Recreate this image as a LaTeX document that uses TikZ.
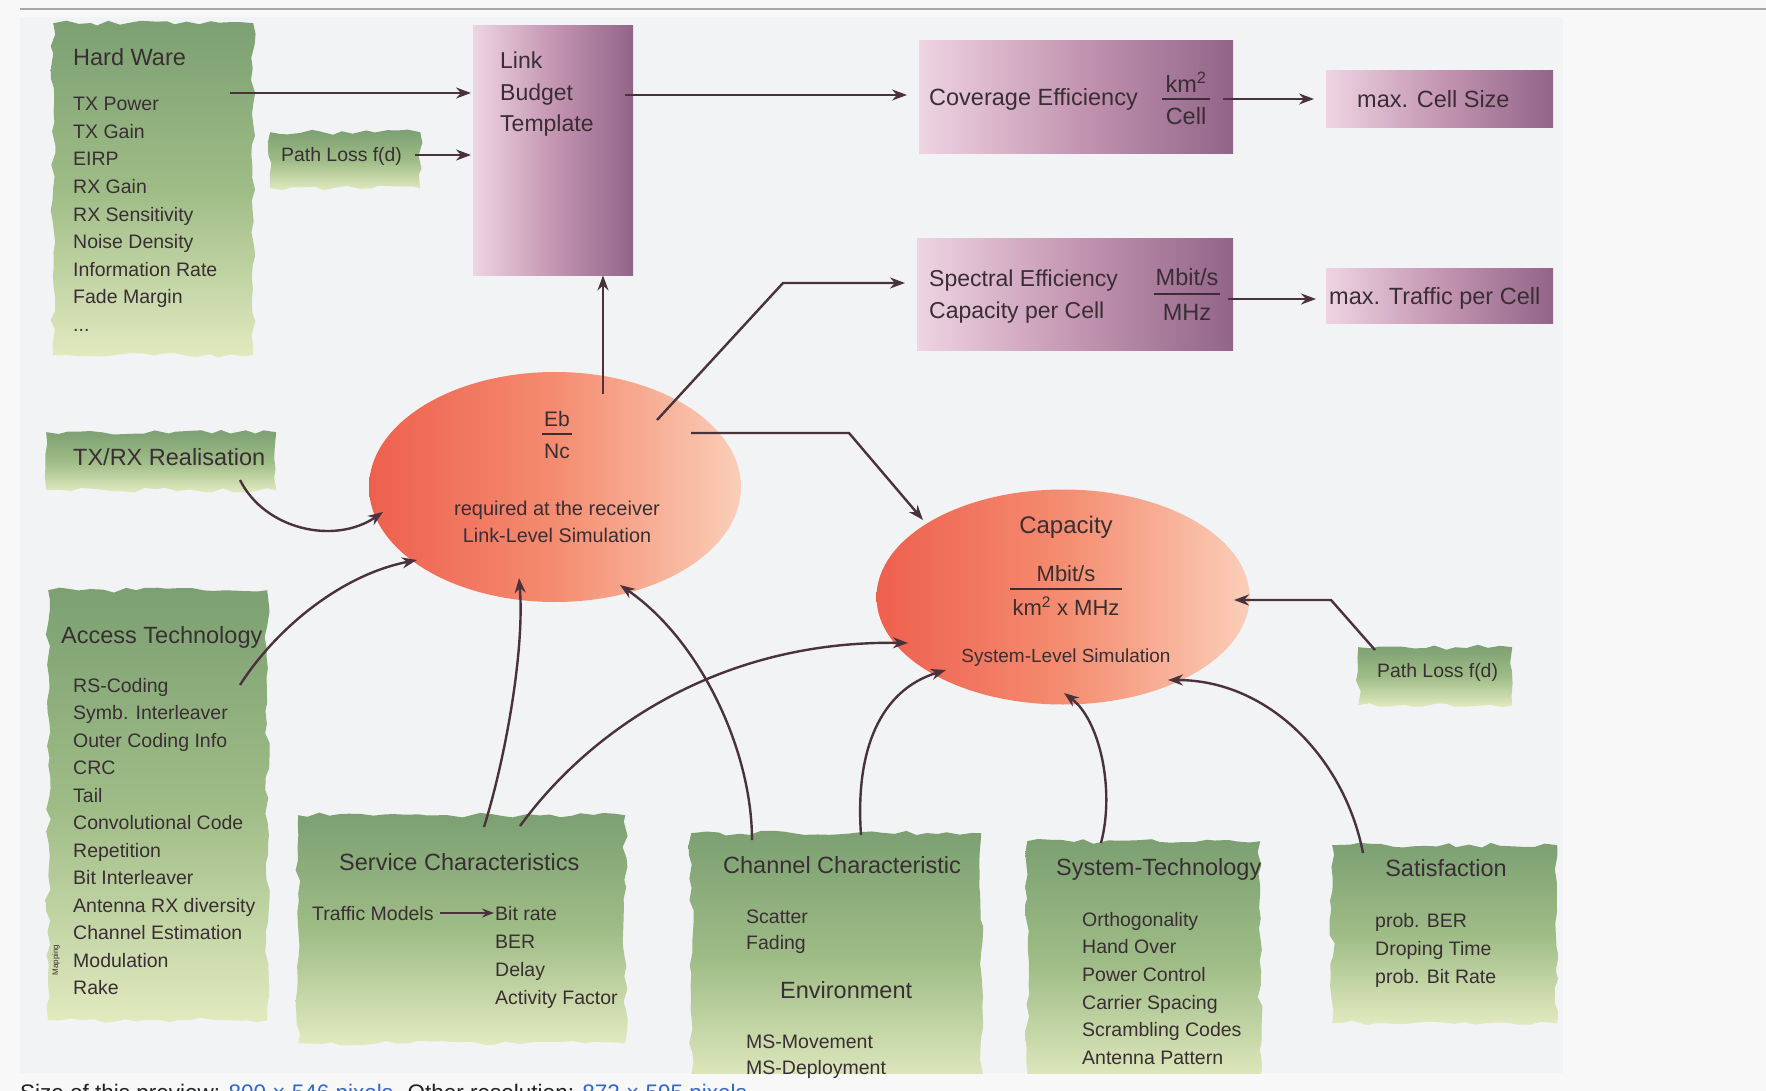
\documentclass[tikz,border=0pt]{standalone}
\usepackage{fontspec}
\setmainfont{Liberation Sans}
\usetikzlibrary{calc,decorations.pathmorphing,arrows.meta,shapes.geometric}
\definecolor{pagebg}{RGB}{248,248,248}
\definecolor{figbg}{RGB}{242,243,245}
\definecolor{rulegray}{RGB}{168,168,168}
\definecolor{ink}{RGB}{58,46,52}
\definecolor{arrowc}{RGB}{74,50,60}
\definecolor{gtop}{RGB}{124,160,114}
\definecolor{gmid}{RGB}{158,188,134}
\definecolor{gbot}{RGB}{226,234,192}
\definecolor{pleft}{RGB}{238,212,226}
\definecolor{pmid}{RGB}{196,150,178}
\definecolor{pright}{RGB}{146,100,136}
\definecolor{eleft}{RGB}{238,96,78}
\definecolor{emid}{RGB}{244,140,112}
\definecolor{eright}{RGB}{251,206,184}
\definecolor{capblack}{RGB}{32,33,34}
\definecolor{linkblue}{RGB}{51,102,204}
\newcommand\ftitle{\fontsize{23.5}{28}\selectfont}
\newcommand\fitem{\fontsize{19.5}{27.6}\selectfont}
\begin{document}
\begin{tikzpicture}[x=1pt,y=-1pt,
  greenbox/.style={anchor=north west, inner sep=0pt, top color=gtop, bottom color=gbot, middle color=gmid, decorate, decoration={random steps,segment length=11pt,amplitude=2.6pt}},
  purplebox/.style={anchor=north west, inner sep=0pt, left color=pleft, right color=pright, middle color=pmid},
  oval/.style={ellipse, inner sep=0pt, left color=eleft, right color=eright, middle color=emid},
  ttl/.style={anchor=base west, inner sep=0pt, text=ink, font=\ftitle},
  lst/.style={anchor=north west, inner sep=0pt, text=ink, font=\fitem, align=left},
  txt/.style={anchor=base, inner sep=0pt, text=ink},
  arr/.style={draw=arrowc, line width=2.4pt, -{Stealth[length=15pt,width=11pt]}},
  bar/.style={draw=ink, line width=2pt},
]
\pgfmathsetseed{11}
\fill[pagebg] (0,0) rectangle (1766,1091);
\useasboundingbox (0,0) rectangle (1766,1091);
\fill[figbg] (20,17) rectangle (1563,1073);
\draw[rulegray, line width=2pt] (20,9) -- (1766,9);

% ---------- boxes ----------
\begin{scope}
\clip (0,0) rectangle (1766,1073);
\node[greenbox, minimum width=200pt, minimum height=332pt] (hw) at (53,23) {};
\node[purplebox, minimum width=160pt, minimum height=250pt] (link) at (473,25) {};
\node[greenbox, minimum width=150pt, minimum height=56pt] (pl1) at (270,132) {};
\node[purplebox, minimum width=314pt, minimum height=113pt] (cov) at (919,40) {};
\node[purplebox, minimum width=227pt, minimum height=57pt] (maxcell) at (1326,70) {};
\node[purplebox, minimum width=316pt, minimum height=112pt] (spec) at (917,238) {};
\node[purplebox, minimum width=227pt, minimum height=55pt] (maxtraf) at (1326,268) {};
\node[greenbox, minimum width=230pt, minimum height=58pt] (txrx) at (46,432) {};
\node[greenbox, minimum width=219pt, minimum height=430pt] (access) at (48,590) {};
\node[greenbox, minimum width=327pt, minimum height=228pt] (service) at (298,815) {};
\node[greenbox, minimum width=290pt, minimum height=250pt] (channel) at (691,833) {};
\node[greenbox, minimum width=233pt, minimum height=242pt] (system) at (1027,841) {};
\node[greenbox, minimum width=225pt, minimum height=178pt] (satisf) at (1332,845) {};
\node[greenbox, minimum width=154pt, minimum height=58pt] (pl2) at (1358,647) {};
\end{scope}
\node[oval, minimum width=372pt, minimum height=230pt] (eb) at (555,487) {};
\node[oval, minimum width=373pt, minimum height=215pt] (capy) at (1063,597) {};

% ---------- texts ----------
\node[ttl] (hwt) at (73,66) {Hard Ware};
\node[lst] (hwl) at (73,97) {TX Power\\TX Gain\\EIRP\\RX Gain\\RX Sensitivity\\Noise Density\\Information Rate\\Fade Margin\\...};
\node[lst, font=\fontsize{23}{31.5}\selectfont] (lbt) at (500,52) {Link\\Budget\\Template};
\node[ttl, font=\fontsize{19.4}{24}\selectfont] (pl1t) at (281,162) {Path Loss f(d)};
\node[ttl] (covt) at (929,106) {Coverage Efficiency};
\node[txt, font=\ftitle] (covnum) at (1186,93) {km\textsuperscript{2}};
\node[txt, font=\ftitle] (covden) at (1186,125) {Cell};
\draw[bar] ($(covnum.base)+(-24,6)$) -- ($(covnum.base)+(24,6)$);
\node[ttl] (maxcellt) at (1357,108) {max. Cell Size};
\node[lst, font=\fontsize{23}{32}\selectfont] (spect) at (929,270) {Spectral Efficiency\\Capacity per Cell};
\node[txt, font=\ftitle] (specnum) at (1187,286) {Mbit/s};
\node[txt, font=\ftitle] (specden) at (1187,320) {MHz};
\draw[bar] ($(specnum.base)+(-33,8)$) -- ($(specnum.base)+(33,8)$);
\node[ttl] (maxtraft) at (1329,305) {max. Traffic per Cell};

\node[txt, font=\fontsize{21}{24}\selectfont] (ebnum) at (557,426) {Eb};
\node[txt, font=\fontsize{21}{24}\selectfont] (ebden) at (557,458) {Nc};
\draw[bar] ($(ebnum.base)+(-15,8)$) -- ($(ebnum.base)+(15,8)$);
\node[txt, font=\fontsize{20}{24}\selectfont] (ebr1) at (557,515) {required at the receiver};
\node[txt, font=\fontsize{19.8}{24}\selectfont] (ebr2) at (557,542) {Link-Level Simulation};

\node[txt, font=\fontsize{24}{28}\selectfont] (capt) at (1066,533) {Capacity};
\node[txt, font=\fontsize{22}{26}\selectfont] (capnum) at (1066,581) {Mbit/s};
\node[txt, font=\fontsize{22}{26}\selectfont] (capden) at (1066,615) {km\textsuperscript{2} x MHz};
\draw[bar] ($(capnum.base)+(-56,8)$) -- ($(capnum.base)+(56,8)$);
\node[txt, font=\fontsize{19}{24}\selectfont] (capsim) at (1066,662) {System-Level Simulation};

\node[ttl] (txrxt) at (73,465) {TX/RX Realisation};
\node[ttl] (acct) at (61,643) {Access Technology};
\node[lst, font=\fontsize{19.5}{27.5}\selectfont] (accl) at (73,678) {RS-Coding\\Symb. Interleaver\\Outer Coding Info\\CRC\\Tail\\Convolutional Code\\Repetition\\Bit Interleaver\\Antenna RX diversity\\Channel Estimation\\Modulation\\Rake};
\node[rotate=90, inner sep=0pt, text=ink, font=\fontsize{8}{9}\selectfont] (mapt) at (56,960) {Mapping};

\node[ttl] (servt) at (339,870) {Service Characteristics};
\node[ttl, font=\fitem] (tm) at (312,920) {Traffic Models};
\node[lst, font=\fontsize{19.5}{28}\selectfont] (brl) at (495,906) {Bit rate\\BER\\Delay\\Activity Factor};

\node[ttl] (chant) at (723,873) {Channel Characteristic};
\node[lst, font=\fontsize{19.5}{26}\selectfont] (chl1) at (746,910) {Scatter\\Fading};
\node[ttl] (envt) at (780,998) {Environment};
\node[lst, font=\fontsize{19.5}{26}\selectfont] (chl2) at (746,1035) {MS-Movement\\MS-Deployment};

\node[ttl] (syst) at (1056,875) {System-Technology};
\node[lst] (sysl) at (1082,912) {Orthogonality\\Hand Over\\Power Control\\Carrier Spacing\\Scrambling Codes\\Antenna Pattern};

\node[txt, font=\ftitle] (satt) at (1446,876) {Satisfaction};
\node[lst, font=\fontsize{19.5}{28}\selectfont] (satl) at (1375,913) {prob. BER\\Droping Time\\prob. Bit Rate};

\node[ttl, font=\fontsize{19.4}{24}\selectfont] (pl2t) at (1377,677) {Path Loss f(d)};

% ---------- connectors ----------
\draw[arr] ($(hw.north west)+(177,70)$) -- ($(link.north west)+(-2,68)$);
\draw[arr] ($(pl1.north west)+(145,23)$) -- ($(link.north west)+(-2,130)$);
\draw[arr] ($(link.north west)+(152,70)$) -- ($(cov.north west)+(-12,55)$);
\draw[arr] ($(cov.north west)+(304,59)$) -- ($(maxcell.north west)+(-12,29)$);
\draw[arr] ($(eb.center)+(48,-93)$) -- ($(link.south west)+(130,0)$);
\draw[arr] ($(eb.center)+(102,-67)$) -- ($(spec.north west)+(-134,45)$) -- ($(spec.north west)+(-12,45)$);
\draw[arr] ($(spec.north west)+(311,61)$) -- ($(maxtraf.north west)+(-10,31)$);
\draw[arr] ($(eb.center)+(136,-54)$) -- ($(capy.center)+(-214,-164)$) -- ($(capy.center)+(-140,-77)$);
\draw[arr] ($(pl2.north west)+(17,3)$) -- ($(capy.center)+(268,3)$) -- ($(capy.center)+(171,3)$);

\draw[arr] ($(txrx.north west)+(194,48)$) .. controls (265,530) and (335,545) .. ($(eb.center)+(-172,25)$);
\draw[arr] ($(access.north west)+(192,95)$) .. controls (275,630) and (340,575) .. ($(eb.center)+(-138,73)$);
\draw[arr] ($(service.north west)+(186,12)$) .. controls (505,760) and (525,650) .. ($(eb.center)+(-36,91)$);
\draw[arr] ($(service.north west)+(222,11)$) .. controls (590,730) and (720,640) .. ($(capy.center)+(-155,46)$);
\draw[arr] ($(channel.north west)+(61,7)$) .. controls (752,750) and (700,640) .. ($(eb.center)+(65,98)$);
\draw[arr] ($(channel.north west)+(170,2)$) .. controls (855,750) and (880,690) .. ($(capy.center)+(-117,73)$);
\draw[arr] ($(system.north west)+(74,2)$) .. controls (1115,790) and (1100,720) .. ($(capy.center)+(1,96)$);
\draw[arr] ($(satisf.north west)+(31,8)$) .. controls (1345,760) and (1270,680) .. ($(capy.center)+(105,83)$);
\draw[arr, line width=1.8pt, -{Stealth[length=12pt,width=9pt]}, shorten <=6pt, shorten >=1pt] (tm.east |- 0,913) -- (brl.west |- 0,913);

% ---------- page caption (cut off at the lower edge, as in the reference) ----------
\node[anchor=base west, inner sep=0pt, text=capblack, font=\fontsize{22.5}{27}\selectfont] (previewtxt) at (20,1100) {Size of this preview: \textcolor{linkblue}{800 × 546 pixels}. Other resolution: \textcolor{linkblue}{872 × 595 pixels}.};
\end{tikzpicture}
\end{document}
